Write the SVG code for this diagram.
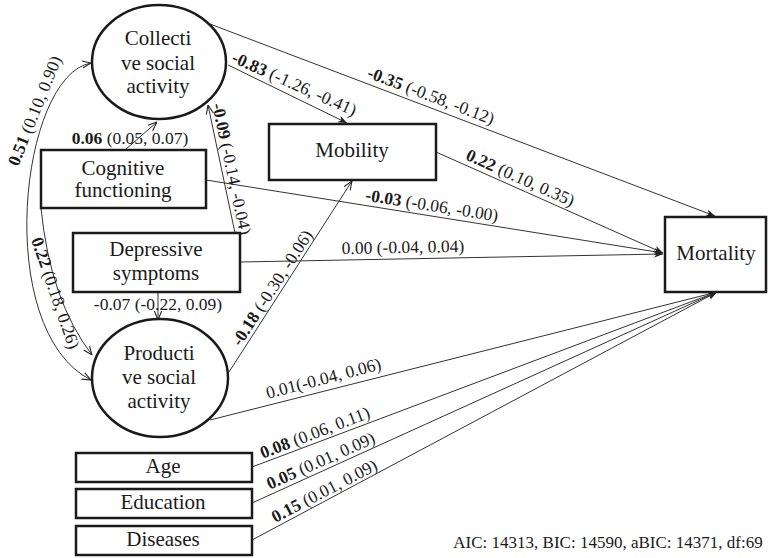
<svg xmlns="http://www.w3.org/2000/svg" width="768" height="558" viewBox="0 0 768 558">
<style>
.node{fill:#fff;stroke:#1a1a1a;stroke-width:2.5}
.nt{font-size:21px;fill:#1a1a1a;text-anchor:middle}
.el{font-size:17.5px;fill:#1a1a1a;text-anchor:middle}
.b{font-weight:bold}
.edge{fill:none;stroke:#333;stroke-width:1}
</style>
<defs>
<marker id="ah" viewBox="0 0 10 10" refX="10" refY="5" markerWidth="9" markerHeight="9" markerUnits="userSpaceOnUse" orient="auto">
<path d="M0,1 L10,5 L0,9 L3,5 z" fill="#222"/>
</marker>
<marker id="ao" viewBox="0 0 10 10" refX="10" refY="5" markerWidth="9" markerHeight="9" markerUnits="userSpaceOnUse" orient="auto-start-reverse">
<path d="M0,1 L10,5 L0,9" fill="none" stroke="#222" stroke-width="1.2"/>
</marker>
</defs>
<rect width="768" height="558" fill="#fff"/>
<g id="connectors">
<path class="edge" d="M210,24 L715,216" marker-end="url(#ah)"/>
<path class="edge" d="M228,65 L347,123" marker-end="url(#ah)"/>
<path class="edge" d="M436,152 L663,253" marker-end="url(#ah)"/>
<path class="edge" d="M206,180 L663,253" marker-end="url(#ah)"/>
<path class="edge" d="M240,262 L663,254" marker-end="url(#ah)"/>
<path class="edge" d="M210,420 L717,292" marker-end="url(#ah)"/>
<path class="edge" d="M252,467 L717,292" marker-end="url(#ah)"/>
<path class="edge" d="M252,503 L717,292" marker-end="url(#ah)"/>
<path class="edge" d="M252,540 L717,292" marker-end="url(#ah)"/>
<path class="edge" d="M125,150 L157,122" marker-end="url(#ao)"/>
<path class="edge" d="M235,233 L208,105" marker-end="url(#ao)"/>
<path class="edge" d="M158,292 L158,320" marker-end="url(#ao)"/>
<path class="edge" d="M229,372 L352,181" marker-end="url(#ao)"/>
<path class="edge" d="M41,208 Q50,300 92,355" marker-end="url(#ao)"/>
<path class="edge" d="M91,63 C20,75 -8,330 91,380" marker-start="url(#ao)" marker-end="url(#ao)"/>
</g>
<g id="edge-labels" font-family="'Liberation Serif', 'DejaVu Serif', serif">
<text class="el" transform="translate(429,101) rotate(20.8)"><tspan class="b">-0.35</tspan> (-0.58, -0.12)</text>
<text class="el" transform="translate(292,89) rotate(24)"><tspan class="b">-0.83</tspan> (-1.26, -0.41)</text>
<text class="el" transform="translate(518,183) rotate(24)"><tspan class="b">0.22</tspan> (0.10, 0.35)</text>
<text class="el" transform="translate(431,211) rotate(9)"><tspan class="b">-0.03</tspan> (-0.06, -0.00)</text>
<text class="el" transform="translate(403,253) rotate(-1)">0.00 (-0.04, 0.04)</text>
<text class="el" transform="translate(325,384) rotate(-14.5)">0.01(-0.04, 0.06)</text>
<text class="el" transform="translate(317,438) rotate(-21)"><tspan class="b">0.08</tspan> (0.06, 0.11)</text>
<text class="el" transform="translate(323,466) rotate(-24)"><tspan class="b">0.05</tspan> (0.01, 0.09)</text>
<text class="el" transform="translate(327,496) rotate(-27.5)"><tspan class="b">0.15</tspan> (0.01, 0.09)</text>
<text class="el" x="130" y="144"><tspan class="b">0.06</tspan> (0.05, 0.07)</text>
<text class="el" transform="translate(226,170) rotate(78)"><tspan class="b">-0.09</tspan> (-0.14, -0.04)</text>
<text class="el" x="158" y="310">-0.07 (-0.22, 0.09)</text>
<text class="el" transform="translate(277,291) rotate(-57)"><tspan class="b">-0.18</tspan> (-0.30, -0.06)</text>
<text class="el" transform="translate(40,113) rotate(-68)"><tspan class="b">0.51</tspan> (0.10, 0.90)</text>
<text class="el" transform="translate(50,295) rotate(71)"><tspan class="b">0.22</tspan> (0.18, 0.26)</text>
<text class="el" x="608" y="548" style="font-size:17px">AIC: 14313, BIC: 14590, aBIC: 14371, df:69</text>
</g>
<g font-family="'Liberation Serif', 'DejaVu Serif', serif">
<g id="collective">
<ellipse class="node" cx="159" cy="62" rx="67" ry="57"/>
<text class="nt" x="158" y="45">Collecti</text>
<text class="nt" x="158" y="70">ve social</text>
<text class="nt" x="158" y="93">activity</text>
</g>
<g id="cognitive">
<rect class="node" x="41" y="150" width="165" height="58"/>
<text class="nt" x="123" y="175">Cognitive</text>
<text class="nt" x="123" y="197">functioning</text>
</g>
<g id="depressive">
<rect class="node" x="73" y="233" width="167" height="59"/>
<text class="nt" x="156" y="256">Depressive</text>
<text class="nt" x="156" y="280">symptoms</text>
</g>
<g id="productive">
<ellipse class="node" cx="160" cy="378" rx="68" ry="59"/>
<text class="nt" x="159" y="360">Producti</text>
<text class="nt" x="159" y="384">ve social</text>
<text class="nt" x="159" y="408">activity</text>
</g>
<g id="mobility">
<rect class="node" x="269" y="124" width="167" height="56"/>
<text class="nt" x="352" y="157">Mobility</text>
</g>
<g id="mortality">
<rect class="node" x="665" y="217" width="101" height="75"/>
<text class="nt" x="716" y="260">Mortality</text>
</g>
<g id="age">
<rect class="node" x="76" y="453" width="176" height="29"/>
<text class="nt" x="163" y="473">Age</text>
</g>
<g id="education">
<rect class="node" x="76" y="489" width="176" height="29"/>
<text class="nt" x="163" y="509">Education</text>
</g>
<g id="diseases">
<rect class="node" x="76" y="526" width="176" height="29"/>
<text class="nt" x="163" y="546">Diseases</text>
</g>
</g>
</svg>
